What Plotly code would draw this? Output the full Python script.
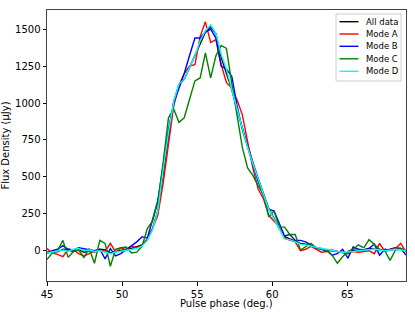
import plotly.graph_objects as go

phase = [45.00, 45.35, 45.70, 46.06, 46.41, 46.76, 47.11, 47.46, 47.81, 48.16,
         48.52, 48.87, 49.22, 49.57, 49.92, 50.27, 50.63, 50.98, 51.33, 51.68,
         52.03, 52.38, 52.74, 53.09, 53.44, 53.79, 54.14, 54.49, 54.85, 55.20,
         55.55, 55.90, 56.25, 56.60, 56.95, 57.31, 57.66, 58.01, 58.36, 58.71,
         59.06, 59.42, 59.77, 60.12, 60.47, 60.82, 61.17, 61.53, 61.88, 62.23,
         62.58, 62.93, 63.28, 63.64, 63.99, 64.34, 64.69, 65.04, 65.39, 65.74,
         66.10, 66.45, 66.80, 67.15, 67.50, 67.85, 68.21, 68.56, 68.91]

all_data = [-10, -5, -8, 10, 5, -5, 8, -10, 0, -8,
            10, 5, -15, -5, 0, 10, 15, 25, 40, 75,
            150, 270, 520, 790, 1010, 1125, 1160, 1240, 1320, 1410,
            1480, 1515, 1470, 1310, 1200, 1090, 950, 830, 710, 600,
            490, 380, 285, 220, 150, 95, 80, 65, 50, 45,
            35, 25, 10, 5, 0, -5, -10, -15, 5, 0,
            5, 15, 10, 5, 0, 10, 20, 15, 0]

mode_a = [15, -15, -25, -40, 10, 5, -20, -35, -20, 0,
          5, -5, 50, -10, 20, 5, 30, 20, 40, 80,
          150, 240, 460, 730, 980, 1120, 1200, 1250, 1260, 1450,
          1550, 1410, 1430, 1260, 1140, 1100, 1020, 920, 730, 560,
          420, 350, 240, 200, 160, 84, 70, 60, 0, 10,
          30, 10, -10, -5, 5, -5, -10, -20, -5, -10,
          -5, 0, -20, 50, -5, 5, 15, 50, -10]

mode_b = [-20, 0, 10, 35, 10, 5, 20, 15, 10, 0,
          10, -55, 15, -35, -20, 5, 30, 60, 95, 85,
          210, 340, 580, 820, 1000, 1100, 1200, 1320, 1440, 1440,
          1480, 1500, 1440, 1250, 1230, 1180, 980, 820, 700, 580,
          470, 370, 280, 270, 180, 100, 110, 70, 70, 60,
          40, 20, 10, 0, -30, -20, 10, -50, 25, 10,
          5, 15, 45, -30, 10, 5, 10, 15, -30]

mode_c = [-60, -15, 0, 70, -45, -5, 5, -45, 15, -85,
          70, 50, -105, 10, 20, 25, -15, -10, 30, 150,
          200, 330, 600, 900, 960, 870, 900, 1030, 1150, 1170,
          1340, 1170, 1320, 1390, 1370, 1130, 900, 700, 560, 510,
          440, 380, 230, 270, 160, 160, 110, 110, 5, 30,
          50, 20, 15, 0, -30, -85, -40, -5, 10, 40,
          20, 75, 40, 10, 0, -65, 5, 15, 0]

mode_d = [-15, -10, 0, 5, -5, 10, 15, 0, 5, -5,
          0, -10, -20, -10, -5, 5, 10, 15, 30, 70,
          140, 270, 550, 800, 1010, 1130, 1160, 1240, 1320, 1420,
          1490, 1530, 1470, 1330, 1230, 1090, 960, 830, 700, 590,
          480, 380, 280, 220, 150, 80, 75, 60, 45, 40,
          30, 25, 15, 10, 0, -5, -10, -10, -5, 0,
          5, 5, 10, 5, 0, 5, 10, 5, 0]

series_names = ["All data", "Mode A", "Mode B", "Mode C", "Mode D"]
series_values = [all_data, mode_a, mode_b, mode_c, mode_d]
series_colors = ["#000000", "#ff0000", "#0000ff", "#008000", "#00ffff"]

y_ticks = [0, 250, 500, 750, 1000, 1250, 1500]
x_ticks = [45, 50, 55, 60, 65]

W, H = 415, 312
ML, MR, MT, MB = 47, 9, 10, 31
PW, PH = W - ML - MR, H - MT - MB


def px(x):
    return (x - ML) / PW


def py(y):
    return (H - MB - y) / PH


fig = go.Figure()
for name, vals, col in zip(series_names, series_values, series_colors):
    fig.add_trace(go.Scatter(x=phase, y=vals, mode="lines", name=name,
                             showlegend=False,
                             line=dict(color=col, width=1.4)))

# legend box drawn by hand (matplotlib-like compact legend)
shapes = [dict(type="rect", xref="paper", yref="paper",
               x0=px(336), x1=px(401), y0=py(81), y1=py(14),
               line=dict(color="#cccccc", width=1), fillcolor="white",
               layer="above")]
annotations = []
row_y = [21.7, 34.0, 46.3, 58.8, 71.3]
for name, col, ry in zip(series_names, series_colors, row_y):
    shapes.append(dict(type="line", xref="paper", yref="paper",
                       x0=px(339.5), x1=px(358.5), y0=py(ry), y1=py(ry),
                       line=dict(color=col, width=1.4), layer="above"))
    annotations.append(dict(xref="paper", yref="paper", x=px(364), y=py(ry),
                            xanchor="left", yanchor="middle", showarrow=False,
                            text=name,
                            font=dict(family="DejaVu Sans", size=8.5,
                                      color="#000000")))

# x axis title placed precisely below the tick labels
annotations.append(dict(xref="paper", yref="paper", x=0.5, y=py(303.5),
                        xanchor="center", yanchor="middle", showarrow=False,
                        text="Pulse phase (deg.)",
                        font=dict(family="DejaVu Sans", size=10, color="#000000")))

font = dict(family="DejaVu Sans", size=10, color="#000000")
fig.update_layout(
    width=W, height=H,
    margin=dict(l=ML, r=MR, t=MT, b=MB, pad=0),
    paper_bgcolor="white", plot_bgcolor="white",
    font=font,
    shapes=shapes, annotations=annotations,
    xaxis=dict(range=[45, 68.91], tickvals=x_ticks, ticks="outside", ticklen=3.5,
               tickcolor="#000000", showline=True, linecolor="#444444", linewidth=1,
               mirror=True, showgrid=False, zeroline=False, automargin=False,
               tickfont=dict(family="DejaVu Sans", size=10, color="#000000")),
    yaxis=dict(range=[-205, 1630], tickvals=y_ticks, ticks="outside", ticklen=3.5,
               tickcolor="#000000", showline=True, linecolor="#444444", linewidth=1,
               mirror=True, showgrid=False, zeroline=False, automargin=False,
               tickfont=dict(family="DejaVu Sans", size=10, color="#000000"),
               title=dict(text="Flux Density (μJy)", standoff=4,
                          font=dict(family="DejaVu Sans", size=10,
                                    color="#000000"))),
)
fig.write_html("out.html", config={"displayModeBar": False},
               post_script="document.body.style.margin='0';")
